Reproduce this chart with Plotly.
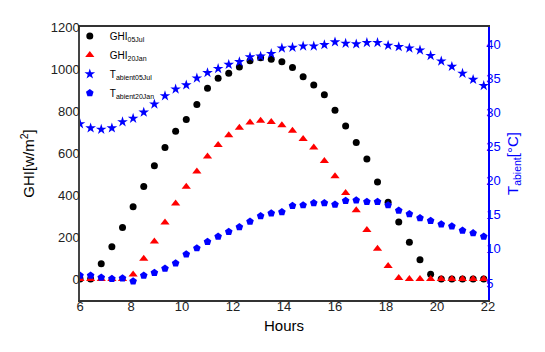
import plotly.graph_objects as go

# time of day, 25 min steps from 6:00 to 21:50
hours = [6.0, 6.417, 6.833, 7.25, 7.667, 8.083, 8.5, 8.917, 9.333, 9.75,
         10.167, 10.583, 11.0, 11.417, 11.833, 12.25, 12.667, 13.083, 13.5, 13.917,
         14.333, 14.75, 15.167, 15.583, 16.0, 16.417, 16.833, 17.25, 17.667, 18.083,
         18.5, 18.917, 19.333, 19.75, 20.167, 20.583, 21.0, 21.417, 21.833]

ghi_05jul = [0, 0, 73, 154, 245, 344, 440, 539, 626, 704,
             759, 831, 908, 956, 980, 1010, 1039, 1053, 1046, 1034,
             1007, 963, 924, 877, 803, 729, 650, 572, 462, 366,
             272, 175, 92, 23, 0, 0, 0, 0, 0]

ghi_20jan = [0, 0, 0, 0, 0, 21, 97, 178, 269, 360,
             439, 512, 583, 638, 685, 720, 745, 753, 748, 732,
             706, 667, 626, 562, 489, 410, 327, 233, 144, 62,
             5, 0, 0, 0, 0, 0, 0, 0, 0]

t_05jul = [28.3, 27.7, 27.5, 27.7, 28.6, 29.1, 30.0, 31.2, 32.4, 33.4,
           34.0, 35.0, 35.8, 36.4, 37.0, 37.4, 38.1, 38.2, 38.6, 39.4,
           39.5, 39.7, 39.7, 39.9, 40.3, 40.1, 40.0, 40.2, 40.2, 39.8,
           39.6, 39.4, 39.1, 38.3, 37.5, 36.7, 35.7, 34.8, 33.9]

t_20jan = [6.1, 6.1, 5.8, 5.6, 5.7, 5.25, 6.1, 6.5, 7.1, 7.9,
           9.2, 10.1, 11.05, 11.8, 12.5, 13.2, 14.0, 14.8, 15.2, 15.4,
           16.3, 16.4, 16.7, 16.7, 16.5, 17.05, 17.1, 16.9, 16.9, 16.4,
           15.6, 15.1, 14.5, 14.1, 13.6, 13.3, 12.7, 12.3, 11.8]

font = "Liberation Sans, Arial, sans-serif"
blue = "#0000ff"

fig = go.Figure()

fig.add_trace(go.Scatter(x=hours, y=ghi_05jul, mode="markers", name="GHI<sub>05Jul</sub>",
                         marker=dict(color="black", size=7, symbol="circle")))
fig.add_trace(go.Scatter(x=hours, y=ghi_20jan, mode="markers", name="GHI<sub>20Jan</sub>",
                         marker=dict(color="#ff0000", size=8, symbol="triangle-up")))
fig.add_trace(go.Scatter(x=hours, y=t_05jul, mode="markers", name="T<sub>abient</sub><sub>05Jul</sub>",
                         marker=dict(color=blue, size=8, symbol="star"), yaxis="y2"))
fig.add_trace(go.Scatter(x=hours, y=t_20jan, mode="markers", name="T<sub>abient</sub><sub>20Jan</sub>",
                         marker=dict(color=blue, size=8, symbol="pentagon"), yaxis="y2"))

# the page body adds an 8px offset, so the figure is a bit smaller than the window
fig.update_layout(
    width=537, height=344,
    margin=dict(l=72, r=57, t=16, b=52),
    plot_bgcolor="white", paper_bgcolor="white",
    font=dict(family=font, size=13, color="#222222"),
    showlegend=True,
    legend=dict(x=-0.025, y=1.02, xanchor="left", yanchor="top",
                bgcolor="rgba(0,0,0,0)", font=dict(size=10, color="black"),
                itemwidth=30, tracegroupgap=2),
    xaxis=dict(range=[6, 22], tickvals=[6, 8, 10, 12, 14, 16, 18, 20, 22],
               showgrid=False, zeroline=False, showline=True, linecolor="#333333",
               linewidth=1.5, mirror=True, ticks="", ticklen=0, ticklabelstandoff=-6,
               title=dict(text="Hours", font=dict(size=15, color="black"), standoff=7)),
    yaxis=dict(range=[-100, 1200], tickvals=[0, 200, 400, 600, 800, 1000, 1200],
               showgrid=False, zeroline=False, showline=True, linecolor="#444444",
               linewidth=1.5, ticks="", ticklen=0, ticklabelstandoff=-4,
               title=dict(text="GHI[w/m<sup>2</sup>]", font=dict(size=15, color="black"), standoff=12)),
    yaxis2=dict(range=[2.5, 42.5], tickvals=[5, 10, 15, 20, 25, 30, 35, 40],
                overlaying="y", side="right", showgrid=False, zeroline=False,
                showline=True, linecolor=blue, linewidth=1.5, ticks="", ticklabelstandoff=-6,
                tickfont=dict(color=blue, size=13),
                title=dict(text="T<sub>abient</sub>[°C]", font=dict(size=15, color=blue), standoff=8)),
)

fig.write_html("out.html")
